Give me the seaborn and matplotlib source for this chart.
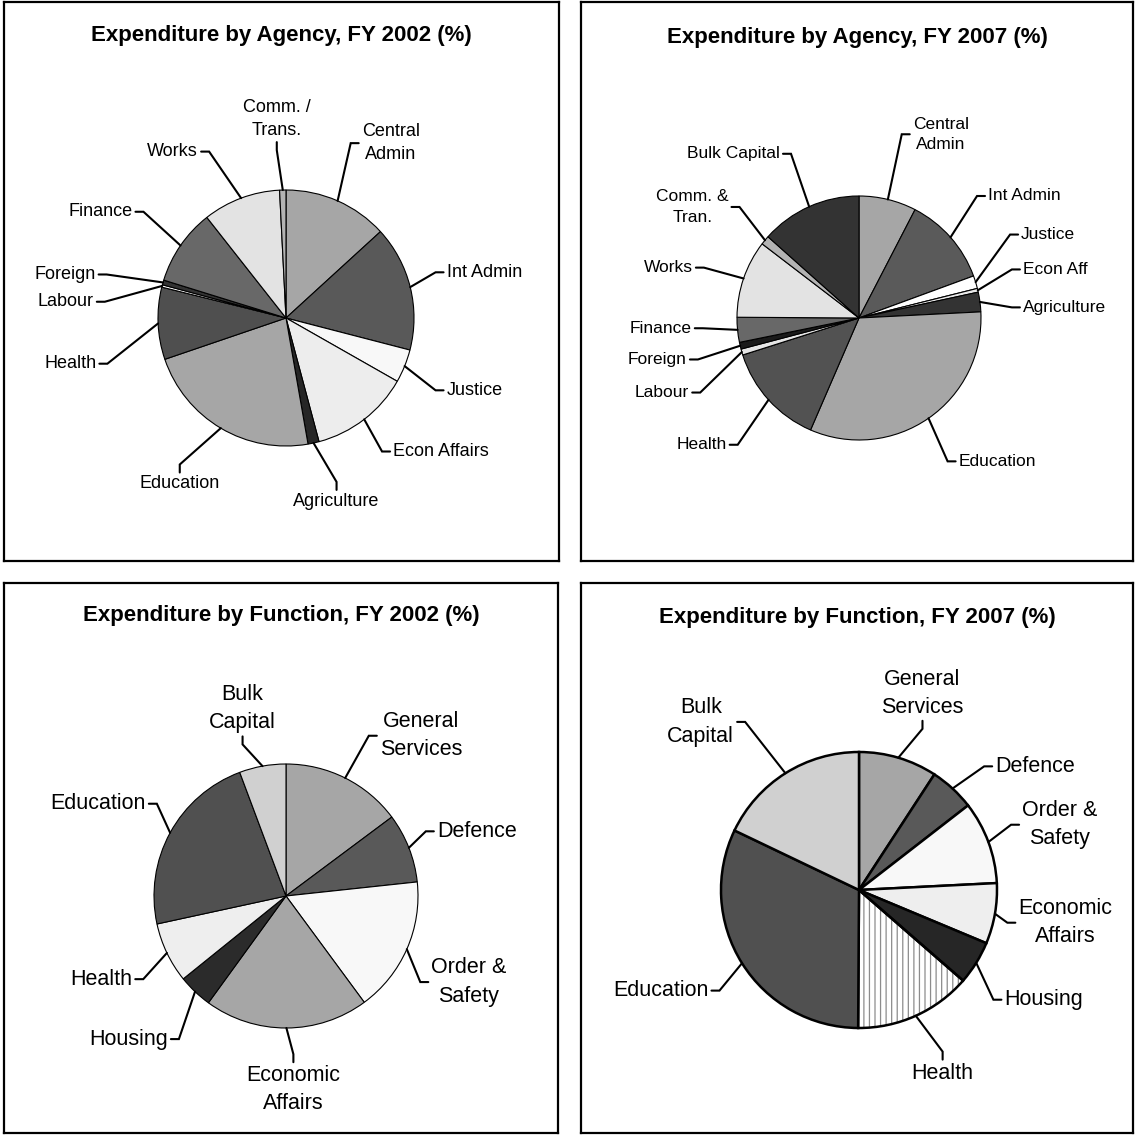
import matplotlib
matplotlib.use("Agg")
import matplotlib.pyplot as plt
from matplotlib.patches import Wedge
import numpy as np
import seaborn as sns

sns.set_theme(style="white")
plt.rcParams["font.family"] = ["Liberation Sans", "DejaVu Sans"]
plt.rcParams["hatch.linewidth"] = 0.9

# ---------------- data ----------------
agency02_labels = ["Central\nAdmin", "Int Admin", "Justice", "Econ Affairs", "Agriculture",
                   "Education", "Health", "Labour", "Foreign", "Finance", "Works", "Comm. /\nTrans."]
agency02_values = [13.2, 15.8, 4.2, 12.6, 1.4, 22.5, 9.1, 0.3, 0.6, 9.6, 9.8, 0.8]

agency07_labels = ["Central\nAdmin", "Int Admin", "Justice", "Econ Aff", "Agriculture", "Education",
                   "Health", "Labour", "Foreign", "Finance", "Works", "Comm. &\nTran.", "Bulk Capital"]
agency07_values = [7.6, 11.8, 1.7, 0.5, 2.6, 32.3, 13.6, 0.8, 0.9, 3.3, 10.3, 1.2, 13.4]

function02_labels = ["General\nServices", "Defence", "Order &\nSafety", "Economic\nAffairs",
                     "Housing", "Health", "Education", "Bulk\nCapital"]
function02_values = [14.8, 8.5, 16.6, 20.1, 4.2, 7.4, 22.7, 5.7]

function07_labels = ["General\nServices", "Defence", "Order &\nSafety", "Economic\nAffairs",
                     "Housing", "Health", "Education", "Bulk\nCapital"]
function07_values = [9.2, 5.3, 9.7, 7.1, 5.1, 13.7, 32.0, 17.9]

# ---------------- styling ----------------
agency02_colors = ["#a6a6a6", "#595959", "#f8f8f8", "#ededed", "#262626", "#a6a6a6",
                   "#4f4f4f", "#ffffff", "#333333", "#686868", "#e3e3e3", "#b3b3b3"]
agency07_colors = ["#a6a6a6", "#5a5a5a", "#ffffff", "#e8e8e8", "#333333", "#a6a6a6",
                   "#525252", "#e6e6e6", "#1a1a1a", "#686868", "#e3e3e3", "#b3b3b3", "#333333"]
function02_colors = ["#a6a6a6", "#595959", "#f8f8f8", "#a6a6a6", "#2b2b2b", "#eeeeee",
                     "#505050", "#d0d0d0"]
function07_colors = ["#a6a6a6", "#595959", "#f8f8f8", "#eeeeee", "#262626", "#ffffff",
                     "#505050", "#d0d0d0"]

# label anchor points (in pie-radius units) and which side the text sits on
agency02_anchors = [(0.568, 1.366), (1.231, 0.357), (1.231, -0.565), (0.813, -1.043),
                    (0.395, -1.343), (-0.83, -1.207), (-1.458, -0.357), (-1.478, 0.127),
                    (-1.464, 0.34), (-1.176, 0.83), (-0.663, 1.30), (-0.072, 1.374)]
agency02_sides = ["r", "r", "r", "r", "b", "b", "l", "l", "l", "l", "l", "t"]

agency07_anchors = [(0.416, 1.506), (1.033, 1.0), (1.304, 0.684), (1.319, 0.398),
                    (1.319, 0.087), (0.792, -1.175), (-1.06, -1.039), (-1.367, -0.611),
                    (-1.386, -0.34), (-1.346, -0.084), (-1.337, 0.413), (-1.045, 0.91),
                    (-0.623, 1.346)]
agency07_sides = ["r", "r", "r", "r", "r", "r", "l", "l", "l", "l", "l", "l", "l"]

function02_anchors = [(0.688, 1.214), (1.12, 0.49), (1.078, -0.652), (0.056, -1.259),
                      (-0.872, -1.084), (-1.142, -0.63), (-1.039, 0.699), (-0.329, 1.209)]
function02_sides = ["r", "r", "r", "b", "l", "l", "l", "t"]

function07_anchors = [(0.46, 1.226), (0.965, 0.896), (1.16, 0.473), (1.133, -0.237),
                      (1.032, -0.795), (0.606, -1.229), (-1.069, -0.729), (-0.883, 1.218)]
function07_sides = ["t", "r", "r", "r", "r", "b", "l", "l"]

W, H = 1135, 1136
fig = plt.figure(figsize=(W / 100, H / 100), dpi=100)
fig.patch.set_facecolor("white")


def draw_panel(box, center, radius, title, title_y, labels, values, colors, anchors, sides,
               fontsize, edge_lw, hatched=None):
    x0, y0, x1, y1 = box
    cx, cy = center
    ax = fig.add_axes([x0 / W, 1 - y1 / H, (x1 - x0) / W, (y1 - y0) / H])
    wedges, _ = ax.pie(values, colors=colors, startangle=90, counterclock=False,
                       wedgeprops=dict(edgecolor="black", linewidth=edge_lw))
    ax.set_aspect("auto")
    ax.set_xlim((x0 - cx) / radius, (x1 - cx) / radius)
    ax.set_ylim((cy - y1) / radius, (cy - y0) / radius)
    ax.set_xticks([])
    ax.set_yticks([])
    ax.set_frame_on(True)
    for sp in ax.spines.values():
        sp.set_visible(True)
        sp.set_color("black")
        sp.set_linewidth(1.6)

    if hatched is not None:
        w = wedges[hatched]
        w.set_facecolor("none")
        under = Wedge(w.center, w.r, w.theta1, w.theta2, facecolor="white",
                      edgecolor="#8c8c8c", linewidth=0, hatch="|||", zorder=w.get_zorder() - 0.5)
        ax.add_patch(under)

    tick = 8 / radius
    pad = 3 / radius
    for w, lab, (axx, ayy), side in zip(wedges, labels, anchors, sides):
        mid = np.deg2rad((w.theta1 + w.theta2) / 2)
        ex, ey = np.cos(mid), np.sin(mid)
        if side == "r":
            el = (axx - tick, ayy)
            tpos, ha, va = (axx + pad, ayy), "left", "center"
        elif side == "l":
            el = (axx + tick, ayy)
            tpos, ha, va = (axx - pad, ayy), "right", "center"
        elif side == "t":
            el = (axx, ayy - tick)
            tpos, ha, va = (axx, ayy + pad), "center", "bottom"
        else:
            el = (axx, ayy + tick)
            tpos, ha, va = (axx, ayy - pad), "center", "top"
        ax.plot([ex, el[0], axx], [ey, el[1], ayy], color="black", lw=1.5,
                solid_joinstyle="miter", clip_on=False, zorder=5)
        ax.text(tpos[0], tpos[1], lab, ha=ha, va=va, multialignment="center",
                fontsize=fontsize, color="black", linespacing=1.45, zorder=6)

    fig.text((x0 + x1) / 2 / W, 1 - title_y / H, title, ha="center", va="center",
             fontsize=16, fontweight="bold", color="black")


draw_panel((4, 2, 559, 561), (286, 318), 128, "Expenditure by Agency, FY 2002 (%)", 35,
           agency02_labels, agency02_values, agency02_colors, agency02_anchors, agency02_sides,
           13, 0.8)
draw_panel((581, 2, 1133, 561), (859, 318), 122, "Expenditure by Agency, FY 2007 (%)", 37,
           agency07_labels, agency07_values, agency07_colors, agency07_anchors, agency07_sides,
           12.5, 0.8)
draw_panel((4, 583, 558, 1133), (286, 896), 132, "Expenditure by Function, FY 2002 (%)", 615,
           function02_labels, function02_values, function02_colors, function02_anchors,
           function02_sides, 15.5, 0.8)
draw_panel((581, 583, 1133, 1133), (859, 890), 138, "Expenditure by Function, FY 2007 (%)", 618,
           function07_labels, function07_values, function07_colors, function07_anchors,
           function07_sides, 15.5, 1.8, hatched=5)

fig.savefig("out.png", dpi=100, facecolor="white")
